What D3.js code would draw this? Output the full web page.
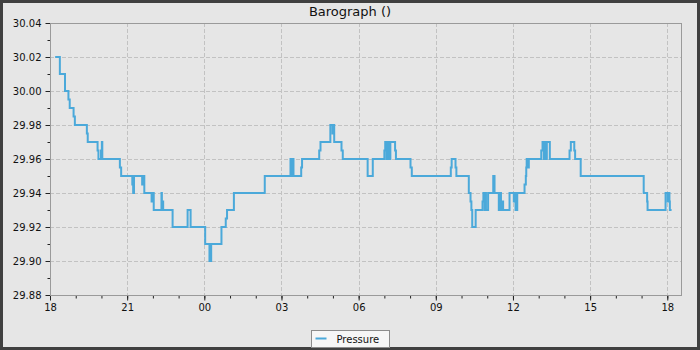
<!DOCTYPE html>
<html>
<head>
<meta charset="utf-8">
<script src="https://cdn.jsdelivr.net/npm/d3@7"></script>
<style>
  body { margin: 0; background: #e6e6e6; }
  svg { display: block; font-family: "DejaVu Sans", sans-serif; }
</style>
</head>
<body>
<div id="chart"></div>
<script>

// barograph readings, step changes only
var times = ["18:12","18:23","18:35","18:43","18:46","18:55","18:58","19:26","19:28","19:51",
  "19:53","19:59","20:01","20:02","20:43","20:46","21:12","21:14","21:16","21:35",
  "21:38","21:40","21:57","22:00","22:02","22:20","22:21","22:24","22:46","23:21",
  "23:28","00:02","00:12","00:16","00:40","00:50","00:53","01:09","02:21","03:21",
  "03:24","03:25","03:28","03:46","03:48","04:28","04:31","04:54","04:59","05:01",
  "05:03","05:20","05:23","06:21","06:33","07:00","07:02","07:05","07:08","07:11",
  "07:14","07:25","07:27","08:01","08:04","09:35","09:37","09:46","09:48","10:17",
  "10:21","10:23","10:25","10:33","10:49","10:51","10:54","10:56","10:57","11:02",
  "11:14","11:17","11:27","11:30","11:32","11:34","11:37","11:52","12:02","12:05",
  "12:06","12:10","12:27","12:30","12:31","12:32","12:35","12:37","13:06","13:09",
  "13:12","13:14","13:17","13:19","13:26","14:12","14:15","14:23","14:25","14:38",
  "17:05","17:13","17:14","17:56","18:01","18:03","18:05","18:06","18:10"];

var pressure = [30.02,30.01,30.00,29.995,29.99,29.985,29.98,29.975,29.97,29.965,
  29.96,29.965,29.97,29.96,29.955,29.95,29.945,29.94,29.95,29.945,
  29.95,29.94,29.935,29.94,29.93,29.94,29.935,29.93,29.92,29.93,
  29.92,29.91,29.90,29.91,29.92,29.925,29.93,29.94,29.95,29.96,
  29.95,29.96,29.95,29.955,29.96,29.965,29.97,29.98,29.975,29.98,
  29.97,29.965,29.96,29.95,29.96,29.965,29.97,29.96,29.97,29.96,
  29.97,29.965,29.96,29.955,29.95,29.955,29.96,29.955,29.95,29.94,
  29.935,29.93,29.92,29.93,29.935,29.94,29.93,29.94,29.93,29.94,
  29.95,29.94,29.93,29.94,29.93,29.935,29.93,29.94,29.935,29.94,
  29.93,29.94,29.945,29.95,29.955,29.96,29.955,29.96,29.965,29.97,
  29.96,29.97,29.96,29.97,29.96,29.965,29.97,29.965,29.96,29.95,
  29.94,29.935,29.93,29.94,29.935,29.94,29.935,29.93,29.93];

var yTicks = [29.88, 29.90, 29.92, 29.94, 29.96, 29.98, 30.00, 30.02, 30.04];
var xTickLabels = ["18", "21", "00", "03", "06", "09", "12", "15", "18"];

var title = "Barograph ()";
var seriesName = "Pressure";

// layout
/////////////////////////////////////
var width = 700;
var height = 350;
var plotLeft = 50;
var plotRight = 681;
var plotTop = 23;
var plotBottom = 295;
var lineColor = "#4ba9da";

var start = new Date(2024, 0, 1, 18, 0);
var end = new Date(2024, 0, 2, 18, 32);

// turn HH:MM into dates, rolling the day over at midnight
var day = 0;
var prevMin = -1;
var data = times.map(function(t, i){
  var parts = t.split(":");
  var mins = +parts[0] * 60 + +parts[1];
  if (mins < prevMin) { day += 1; }
  prevMin = mins;
  return { date: new Date(2024, 0, 1 + day, +parts[0], +parts[1]), value: pressure[i] };
});

var x = d3.scaleTime().domain([start, end]).range([plotLeft, plotRight]);
var y = d3.scaleLinear().domain([29.88, 30.04]).range([plotBottom, plotTop]);

var xTicks = xTickLabels.map(function(d, i){ return d3.timeHour.offset(start, i * 3); });
var xMinor = d3.timeHour.range(start, end);
var yMinor = d3.range(0, 17).map(function(i){ return +(29.88 + i * 0.01).toFixed(2); });

var svg = d3.select("#chart").append("svg")
  .attr("width", width)
  .attr("height", height);

svg.append("rect")
  .attr("x", 1.5).attr("y", 1.5)
  .attr("width", width - 3).attr("height", height - 3)
  .style("fill", "#e6e6e6")
  .style("stroke", "#404040")
  .style("stroke-width", 3);

svg.append("text")
  .attr("x", 350).attr("y", 16)
  .attr("text-anchor", "middle")
  .style("font-size", "13px")
  .style("fill", "#111")
  .text(title);

// grid
var grid = svg.append("g")
  .style("stroke", "#c2c2c2")
  .style("stroke-dasharray", "4,2")
  .style("stroke-width", 1);

grid.selectAll(".hgrid").data(yTicks.slice(1, -1)).enter().append("line")
  .attr("x1", plotLeft).attr("x2", plotRight)
  .attr("y1", function(d){ return Math.round(y(d)) + 0.5; })
  .attr("y2", function(d){ return Math.round(y(d)) + 0.5; });

grid.selectAll(".vgrid").data(xTicks.slice(1)).enter().append("line")
  .attr("y1", plotTop).attr("y2", plotBottom)
  .attr("x1", function(d){ return Math.round(x(d)) + 0.5; })
  .attr("x2", function(d){ return Math.round(x(d)) + 0.5; });

// frame
svg.append("rect")
  .attr("x", plotLeft + 0.5).attr("y", plotTop + 0.5)
  .attr("width", plotRight - plotLeft).attr("height", plotBottom - plotTop)
  .style("fill", "none")
  .style("stroke", "#9a9a9a");

// axes
svg.append("g")
  .attr("transform", "translate(" + (plotLeft + 0.5) + ",0)")
  .call(d3.axisLeft(y).tickValues(yTicks).tickSize(5).tickPadding(4)
    .tickFormat(d3.format(".2f")));

svg.append("g")
  .attr("transform", "translate(" + (plotLeft + 0.5) + ",0)")
  .call(d3.axisLeft(y).tickValues(yMinor).tickSize(3).tickFormat(""));

svg.append("g")
  .attr("transform", "translate(0," + (plotBottom + 0.5) + ")")
  .call(d3.axisBottom(x).tickValues(xTicks).tickSize(5).tickPadding(3)
    .tickFormat(function(d, i){ return xTickLabels[i]; }));

svg.append("g")
  .attr("transform", "translate(0," + (plotBottom + 0.5) + ")")
  .call(d3.axisBottom(x).tickValues(xMinor).tickSize(3).tickFormat(""));

svg.selectAll(".domain").remove();
svg.selectAll(".tick line").style("stroke", "#222");
svg.selectAll(".tick text")
  .style("font-family", "DejaVu Sans, sans-serif")
  .style("font-size", "10px")
  .style("fill", "#111");

// redraw axis lines on top of ticks
svg.append("line")
  .attr("x1", plotLeft + 0.5).attr("x2", plotLeft + 0.5)
  .attr("y1", plotTop).attr("y2", plotBottom + 1)
  .style("stroke", "#9a9a9a");
svg.append("line")
  .attr("x1", plotLeft).attr("x2", plotRight + 1)
  .attr("y1", plotBottom + 0.5).attr("y2", plotBottom + 0.5)
  .style("stroke", "#9a9a9a");

// pressure line
var line = d3.line()
  .x(function(d){ return x(d.date); })
  .y(function(d){ return y(d.value); })
  .curve(d3.curveStepAfter);

svg.append("path")
  .datum(data)
  .attr("d", line)
  .style("fill", "none")
  .style("stroke", lineColor)
  .style("stroke-width", 2);

// legend
var legend = svg.append("g").attr("transform", "translate(311.5,330.5)");
legend.append("rect")
  .attr("width", 78).attr("height", 17)
  .style("fill", "#f6f6f6")
  .style("stroke", "#8c8c8c");
legend.append("line")
  .attr("x1", 4).attr("x2", 15)
  .attr("y1", 8).attr("y2", 8)
  .style("stroke", lineColor)
  .style("stroke-width", 2);
legend.append("text")
  .attr("x", 25).attr("y", 12)
  .style("font-size", "10px")
  .style("fill", "#111")
  .text(seriesName);

</script>
</body>
</html>
